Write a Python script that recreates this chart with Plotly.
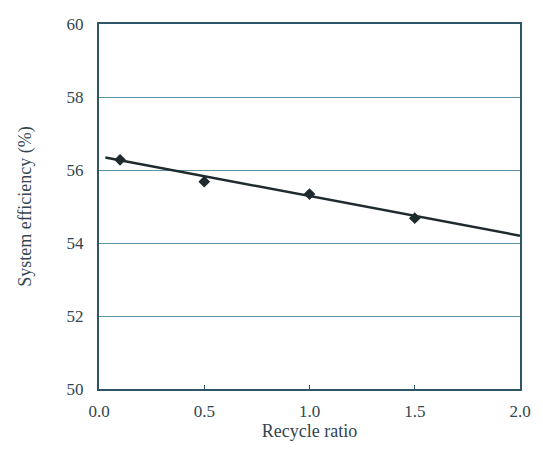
import plotly.graph_objects as go

recycle_ratio = [0.1, 0.5, 1.0, 1.5]
efficiency = [56.28, 55.68, 55.34, 54.68]
trend_x = [0.03, 2.0]
trend_y = [56.34, 54.2]
x_ticks = [0.0, 0.5, 1.0, 1.5, 2.0]
x_tick_labels = ["0.0", "0.5", "1.0", "1.5", "2.0"]
y_ticks = [50, 52, 54, 56, 58, 60]

axis_col = "#2f5666"
grid_col = "#5b93a6"
text_col = "#33454f"
font_fam = "Liberation Serif, DejaVu Serif, serif"

fig = go.Figure()
fig.add_trace(go.Scatter(x=trend_x, y=trend_y, mode="lines",
                         line=dict(color="#1e2a2e", width=2.5), showlegend=False))
fig.add_trace(go.Scatter(x=recycle_ratio, y=efficiency, mode="markers",
                         marker=dict(symbol="diamond", size=9, color="#1e2a2e"),
                         showlegend=False))

fig.update_layout(
    width=543, height=450,
    margin=dict(l=99, r=17, t=24, b=57),
    paper_bgcolor="white", plot_bgcolor="white",
    font=dict(family=font_fam, color=text_col, size=17),
    xaxis=dict(range=[0, 2], tickvals=x_ticks, ticktext=x_tick_labels,
               showgrid=False, zeroline=False, showline=True, linecolor=axis_col,
               linewidth=2, mirror=True, ticks="inside", ticklen=4, tickcolor=axis_col,
               ticklabelstandoff=6,
               title=dict(text="Recycle ratio", standoff=4, font=dict(size=18)),
               tickfont=dict(size=17)),
    yaxis=dict(range=[50, 60], tickvals=y_ticks, showgrid=True, gridcolor=grid_col,
               gridwidth=1, zeroline=False, showline=True, linecolor=axis_col,
               linewidth=2, mirror=True, ticks="", ticklabelstandoff=10,
               title=dict(text="System efficiency (%)", standoff=30, font=dict(size=18)),
               tickfont=dict(size=17)),
)

fig.write_html("out.html",
               config={"displayModeBar": False},
               post_script="document.body.style.margin='0';document.body.style.overflow='hidden';")
